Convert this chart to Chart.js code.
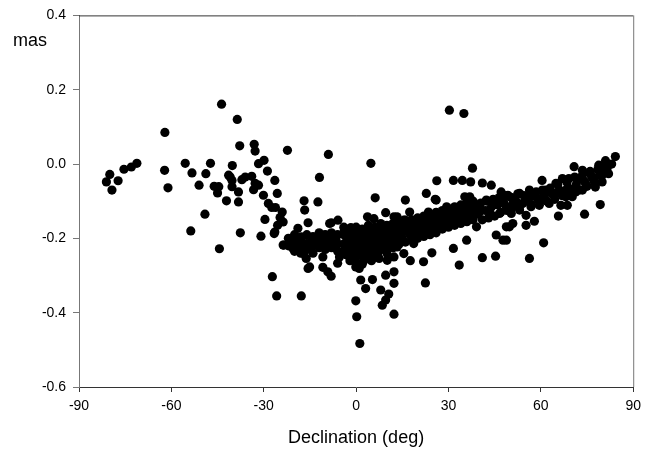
<!DOCTYPE html>
<html>
<head>
<meta charset="utf-8">
<script src="https://cdn.jsdelivr.net/npm/chart.js@4"></script>
<style>
  html, body { margin: 0; padding: 0; background: #fff; }
  #wrap { width: 647px; height: 455px; }
</style>
</head>
<body>
<div id="wrap"><canvas id="chart" width="647" height="455"></canvas></div>
<script>
// declination (deg), offset (mas) pairs
const farSouth = [
  [-81.1, -0.048], [-80.0, -0.028], [-77.3, -0.045], [-79.3, -0.070], [-75.4, -0.014],
  [-73.0, -0.008], [-71.2, 0.002], [-62.1, 0.085], [-62.2, -0.017], [-61.1, -0.064],
  [-55.5, 0.002], [-53.3, -0.024], [-48.8, -0.026], [-47.3, 0.002], [-51.0, -0.057],
  [-53.7, -0.180], [-49.1, -0.135], [-46.1, -0.060], [-44.6, -0.061], [-45.0, -0.078],
  [-44.4, -0.228]
];
const midSouth = [
  [-43.7, 0.161], [-38.6, 0.120], [-37.8, 0.049], [-40.2, -0.004], [-40.9, -0.035],
  [-40.3, -0.044], [-42.1, -0.099], [-38.2, -0.102], [-40.3, -0.061], [-38.2, -0.075],
  [-37.6, -0.185], [-41.4, -0.030], [-37.1, -0.042], [-36.0, -0.035], [-33.9, -0.033],
  [-32.8, -0.052], [-33.3, -0.069], [-31.7, -0.057], [-33.1, 0.053], [-32.8, 0.035],
  [-31.7, 0.001], [-29.9, 0.010], [-28.8, -0.019], [-30.1, -0.084], [-26.4, -0.044],
  [-25.6, -0.079], [-22.3, 0.037]
];
const nearSouth = [
  [-28.5, -0.106], [-27.4, -0.117], [-26.2, -0.117], [-24.0, -0.129], [-24.7, -0.144],
  [-23.7, -0.156], [-25.5, -0.165], [-26.6, -0.187], [-29.6, -0.149], [-30.9, -0.194],
  [-26.4, -0.183], [-23.7, -0.218], [-20.5, -0.227], [-27.2, -0.303], [-25.8, -0.355],
  [-17.8, -0.355], [-16.9, -0.099], [-16.7, -0.124], [-18.9, -0.173], [-17.8, -0.196],
  [-16.2, -0.214], [-19.4, -0.223], [-17.2, -0.241], [-23.5, -0.218], [-11.9, -0.036],
  [-12.4, -0.102], [-15.6, -0.158], [-8.1, -0.158], [-5.9, -0.151], [-12.4, -0.196],
  [-10.3, -0.191], [-8.1, -0.196], [-6.5, -0.205], [-14.0, -0.209], [-11.3, -0.209],
  [-16.7, -0.232], [-16.2, -0.254], [-15.1, -0.277], [-10.8, -0.250], [-10.8, -0.278],
  [-9.2, -0.290], [-8.1, -0.302], [-6.0, -0.267], [-5.4, -0.250], [-9.0, 0.026],
  [-15.6, -0.281], [-8.6, -0.160], [-14.6, -0.209]
];
const equator = [
  [4.8, 0.002], [6.2, -0.091], [16.0, -0.097], [-3.8, -0.178], [-1.7, -0.171],
  [3.7, -0.142], [5.8, -0.147], [9.6, -0.131], [12.3, -0.142], [15.5, -0.151],
  [-0.1, -0.277], [1.5, -0.312], [3.1, -0.335], [5.3, -0.311], [1.0, -0.281],
  [7.5, -0.254], [10.1, -0.259], [12.3, -0.250], [9.6, -0.299], [12.3, -0.290],
  [12.3, -0.321], [8.0, -0.339], [10.6, -0.350], [9.6, -0.366], [8.5, -0.380],
  [-0.1, -0.368], [0.2, -0.411], [1.2, -0.483], [12.3, -0.404], [3.7, -0.241],
  [5.8, -0.250], [2.6, -0.259]
];
const midNorth = [
  [30.3, 0.145], [35.0, 0.136], [37.8, -0.011], [26.2, -0.045], [31.6, -0.044],
  [34.5, -0.044], [37.2, -0.048], [41.0, -0.051], [43.9, -0.057], [22.8, -0.079],
  [25.7, -0.095], [47.1, -0.075], [49.3, -0.084], [26.0, -0.097], [35.3, -0.088],
  [36.9, -0.088], [17.4, -0.129], [23.5, -0.129], [29.4, -0.115], [32.7, -0.120],
  [42.3, -0.097], [40.2, -0.115], [43.4, -0.124], [46.6, -0.133], [49.8, -0.124],
  [13.3, -0.142], [16.0, -0.151], [19.8, -0.147], [24.1, -0.160], [27.3, -0.151],
  [39.1, -0.169], [49.8, -0.169], [45.5, -0.191], [47.7, -0.205], [35.9, -0.205],
  [31.6, -0.227], [24.6, -0.239], [17.6, -0.260], [21.9, -0.263], [33.5, -0.272],
  [41.0, -0.252], [45.3, -0.248], [22.5, -0.320], [13.3, -0.223], [15.5, -0.241],
  [18.7, -0.214]
];
const farNorth = [
  [84.2, 0.020], [81.0, 0.009], [78.8, -0.003], [81.5, -0.012], [82.0, -0.026],
  [79.9, -0.030], [70.8, -0.007], [73.5, -0.017], [76.1, -0.026], [77.2, -0.044],
  [79.9, -0.048], [77.7, -0.062], [67.0, -0.039], [69.1, -0.039], [71.8, -0.044],
  [74.5, -0.052], [73.5, -0.070], [70.8, -0.066], [68.1, -0.070], [60.4, -0.044],
  [64.9, -0.052], [61.6, -0.070], [64.9, -0.079], [68.1, -0.088], [70.2, -0.088],
  [71.3, -0.075], [53.1, -0.079], [56.3, -0.070], [58.4, -0.088], [60.6, -0.097],
  [62.7, -0.106], [49.8, -0.088], [50.9, -0.106], [54.1, -0.106], [56.8, -0.115],
  [59.5, -0.111], [48.8, -0.115], [50.4, -0.133], [53.1, -0.124], [55.2, -0.138],
  [66.5, -0.111], [68.6, -0.111], [65.7, -0.140], [74.2, -0.135], [79.3, -0.109],
  [50.9, -0.160], [48.8, -0.169], [55.2, -0.165], [57.9, -0.154], [60.9, -0.212],
  [56.3, -0.254], [48.8, -0.205]
];
// the dense band of sources
const bandSouth = [
  [-22, -0.20], [-22, -0.22], [-20, -0.19], [-20, -0.21], [-20, -0.235], [-18, -0.20],
  [-18, -0.22], [-18, -0.24], [-16, -0.19], [-16, -0.215], [-16, -0.23], [-14, -0.195],
  [-14, -0.22], [-14, -0.24], [-12, -0.185], [-12, -0.205], [-12, -0.225], [-10, -0.19],
  [-10, -0.21], [-10, -0.23], [-8, -0.185], [-8, -0.21], [-8, -0.225], [-6, -0.19],
  [-6, -0.215], [-6, -0.235]
];
const bandEquator = [
  [-4, -0.17], [-4, -0.19], [-4, -0.215], [-4, -0.235], [-3, -0.2], [-3, -0.225], [-3, -0.245],
  [-2, -0.18], [-2, -0.205], [-2, -0.23], [-2, -0.26], [-1, -0.195], [-1, -0.215], [-1, -0.24],
  [0, -0.17], [0, -0.19], [0, -0.21], [0, -0.23], [0, -0.25], [0, -0.265], [1, -0.185],
  [1, -0.2], [1, -0.22], [1, -0.245], [2, -0.175], [2, -0.195], [2, -0.215], [2, -0.235],
  [2, -0.27], [3, -0.19], [3, -0.21], [3, -0.225], [3, -0.25], [4, -0.165], [4, -0.18],
  [4, -0.2], [4, -0.22], [4, -0.24], [5, -0.19], [5, -0.21], [5, -0.23], [5, -0.26],
  [6, -0.17], [6, -0.185], [6, -0.205], [6, -0.225], [7, -0.175], [7, -0.195], [7, -0.215],
  [7, -0.24], [8, -0.16], [8, -0.18], [8, -0.2], [8, -0.22], [9, -0.17], [9, -0.19],
  [9, -0.21], [9, -0.23], [10, -0.165], [10, -0.185], [10, -0.2], [10, -0.22], [10, -0.24],
  [11, -0.175], [11, -0.195], [11, -0.215], [12, -0.16], [12, -0.18], [12, -0.2], [12, -0.225],
  [13, -0.17], [13, -0.19], [13, -0.21], [14, -0.16], [14, -0.175], [14, -0.195], [14, -0.215]
];
const bandMid = [
  [15, -0.165], [15, -0.185], [15, -0.2], [16, -0.155], [16.5, -0.175], [16, -0.21],
  [17, -0.165], [17.5, -0.19], [18, -0.15], [18.5, -0.17], [18, -0.205],
  [19, -0.16], [19.5, -0.185], [20, -0.145], [20.5, -0.165], [20, -0.2],
  [21, -0.155], [21.5, -0.18], [22, -0.14], [22.5, -0.16], [22, -0.195],
  [23, -0.15], [23.5, -0.175], [24, -0.14], [24.5, -0.16], [24, -0.19],
  [25, -0.145], [25.5, -0.17], [26, -0.13], [26.5, -0.15], [26, -0.185],
  [27, -0.14], [27.5, -0.165], [28, -0.125], [28.5, -0.145], [28, -0.175],
  [29, -0.135], [29.5, -0.16], [30, -0.12], [30.5, -0.14], [30, -0.17],
  [31, -0.13], [31.5, -0.155], [32, -0.115], [32.5, -0.135], [32, -0.165],
  [33, -0.125], [33.5, -0.15], [34, -0.11], [34.5, -0.13], [34, -0.16],
  [35, -0.12], [35.5, -0.145], [36, -0.105], [36.5, -0.125], [36, -0.155],
  [37, -0.115], [37.5, -0.14], [38, -0.1], [38.5, -0.12], [38, -0.15],
  [39, -0.11], [39.5, -0.135]
];
const bandNorth = [
  [40.5, -0.105], [40, -0.13], [41, -0.15], [42.5, -0.1], [42, -0.125], [43, -0.145],
  [44.5, -0.095], [44, -0.115], [45, -0.14], [46.5, -0.09], [46, -0.11], [47, -0.13],
  [48.5, -0.085], [48, -0.105], [49, -0.125], [50.5, -0.09], [51, -0.115], [52.5, -0.08],
  [52, -0.1], [53, -0.115], [54.5, -0.085], [55, -0.1], [56.5, -0.08], [56, -0.095],
  [57, -0.11], [58.5, -0.075], [59, -0.095], [60.5, -0.07], [61, -0.085], [62, -0.1],
  [63, -0.065], [63.5, -0.08], [64.5, -0.095], [65.5, -0.055], [66, -0.07], [67, -0.085],
  [68.5, -0.05], [69, -0.065], [70, -0.08], [71, -0.035], [71.5, -0.055], [72.5, -0.07],
  [73.5, -0.03], [74, -0.045], [75, -0.06], [76, -0.02], [76.5, -0.035], [77.5, -0.05],
  [78.5, -0.015], [79, -0.03], [80.5, -0.005], [81, -0.02], [83, 0.0]
];

const xTicks = [-90, -60, -30, 0, 30, 60, 90];
const yTicks = [-0.6, -0.4, -0.2, 0.0, 0.2, 0.4];
const xTitle = "Declination (deg)";
const yUnit = "mas";

const FONT = 'Arial, "Liberation Sans", sans-serif';

const points = [farSouth, midSouth, nearSouth, equator, midNorth, farNorth,
  bandSouth, bandEquator, bandMid, bandNorth]
  .flat()
  .map(([x, y]) => ({ x, y }));

const framePlugin = {
  id: "frame",
  afterDraw(chart) {
    const { ctx, chartArea: a } = chart;
    ctx.save();
    ctx.lineWidth = 1;
    ctx.strokeStyle = "#333";
    ctx.beginPath();
    ctx.moveTo(a.left, a.top + 0.5);
    ctx.lineTo(a.right, a.top + 0.5);
    ctx.stroke();
    ctx.strokeStyle = "#777";
    ctx.beginPath();
    ctx.moveTo(a.right + 0.5, a.top);
    ctx.lineTo(a.right + 0.5, a.bottom);
    ctx.stroke();
    // unit label in the top left corner
    ctx.fillStyle = "#000";
    ctx.font = "18px " + FONT;
    ctx.textBaseline = "alphabetic";
    ctx.textAlign = "left";
    ctx.fillText(yUnit, 13, 46);
    ctx.restore();
  },
};

new Chart(document.getElementById("chart"), {
  type: "scatter",
  data: {
    datasets: [
      {
        data: points,
        backgroundColor: "#000",
        borderColor: "#000",
        borderWidth: 0,
        pointRadius: 4.6,
      },
    ],
  },
  options: {
    responsive: false,
    animation: false,
    devicePixelRatio: 1,
    layout: { padding: { left: 0, top: 15, right: 9, bottom: 0 } },
    plugins: { legend: { display: false }, tooltip: { enabled: false } },
    scales: {
      x: {
        type: "linear",
        min: -90,
        max: 90,
        afterBuildTicks: (s) => { s.ticks = xTicks.map((v) => ({ value: v })); },
        afterFit: (s) => { s.height = 68; },
        ticks: { color: "#000", font: { size: 14, family: FONT }, padding: 6, maxRotation: 0 },
        grid: { drawOnChartArea: false, drawTicks: true, tickLength: 5, color: "#333" },
        border: { display: true, color: "#333" },
        title: {
          display: true,
          text: xTitle,
          color: "#000",
          font: { size: 18, family: FONT },
          padding: { top: 0, bottom: 6 },
        },
      },
      y: {
        type: "linear",
        min: -0.6,
        max: 0.4,
        afterBuildTicks: (s) => { s.ticks = yTicks.map((v) => ({ value: v })); },
        afterFit: (s) => { s.width = 79; },
        ticks: {
          color: "#000",
          font: { size: 14, family: FONT },
          padding: 7,
          callback: (v) => (Math.abs(v) < 1e-9 ? "0.0" : v.toFixed(1)),
        },
        grid: { drawOnChartArea: false, drawTicks: true, tickLength: 6, color: "#777" },
        border: { display: true, color: "#777" },
      },
    },
  },
  plugins: [framePlugin],
});
</script>
</body>
</html>
